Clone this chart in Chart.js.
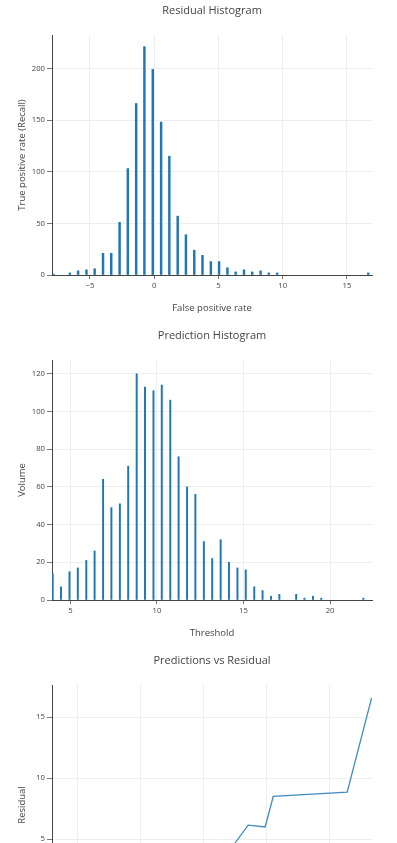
<!DOCTYPE html>
<html>
<head>
<meta charset="utf-8">
<script src="https://cdn.jsdelivr.net/npm/chart.js@4/dist/chart.umd.min.js"></script>
<style>
  html, body { margin: 0; padding: 0; background: #fff; overflow: hidden; }
  .box { position: relative; width: 397px; height: 325px; }
</style>
</head>
<body>
<div class="box"><canvas id="residualHist"></canvas></div>
<div class="box"><canvas id="predictionHist"></canvas></div>
<div class="box"><canvas id="predVsResid"></canvas></div>
<script>
// residual histogram (bin centers / counts)
const residualCenters = [-7.85, -6.56, -5.92, -5.27, -4.63, -3.98, -3.34, -2.69, -2.05, -1.40, -0.76, -0.11, 0.54, 1.18, 1.83, 2.47, 3.12, 3.76, 4.41, 5.05, 5.70, 6.34, 6.99, 7.63, 8.28, 8.92, 9.57, 16.66];
const residualCounts = [1, 2, 4, 5, 6, 21, 21, 51, 103, 166, 221, 199, 148, 115, 57, 39, 24, 19, 13, 13, 7, 3, 5, 3, 4, 2, 2, 2];

// prediction histogram
const predictionCenters = [3.98, 4.46, 4.95, 5.43, 5.92, 6.40, 6.89, 7.37, 7.86, 8.34, 8.83, 9.31, 9.80, 10.28, 10.77, 11.25, 11.74, 12.22, 12.71, 13.19, 13.68, 14.16, 14.65, 15.13, 15.62, 16.10, 16.59, 17.07, 18.04, 18.52, 19.01, 19.49, 21.92];
const predictionCounts = [14, 7, 15, 17, 21, 26, 64, 49, 51, 71, 120, 113, 111, 114, 106, 76, 60, 56, 31, 22, 32, 20, 17, 16, 7, 5, 2, 3, 3, 1, 2, 1, 1];

// predictions vs residual line
const linePred = [11.0, 12.4, 13.57, 14.92, 15.56, 21.43, 23.37];
const lineResid = [1.0, 4.5, 6.15, 6.0, 8.5, 8.85, 16.6];

const blue = "rgb(31,119,180)";
const textColor = "#444";
const gridColor = "#eee";

// plotly style minus sign on tick labels
const fmt = (v) => String(v).replace("-", "\u2212");

function xAxis(title, min, max, step) {
  return {
    type: "linear",
    min: min,
    max: max,
    offset: false,
    grid: { offset: false, color: gridColor, tickLength: 4, tickColor: "#777" },
    border: { color: textColor, width: 1 },
    ticks: { stepSize: step, includeBounds: false, color: textColor, padding: 2, maxRotation: 0, callback: fmt, font: { family: "Open Sans", size: 7.7 } },
    title: { display: true, text: title, color: textColor, font: { family: "Open Sans", size: 9.5 }, padding: { top: 0, bottom: 11.3 } },
    afterFit: (s) => { s.height = 50; },
  };
}

function yAxis(title, min, max, step) {
  return {
    min: min,
    max: max,
    grid: {
      color: (ctx) => (ctx.tick && ctx.tick.value === min ? "rgba(0,0,0,0)" : gridColor),
      tickLength: 5,
      tickColor: "#777",
    },
    border: { color: textColor, width: 1 },
    ticks: { stepSize: step, includeBounds: false, color: textColor, padding: 2, callback: fmt, font: { family: "Open Sans", size: 7.7 } },
    title: { display: true, text: title, color: textColor, font: { family: "Open Sans", size: 9.5 }, padding: { top: 16.3, bottom: 0 } },
    afterFit: (s) => { s.width = 52; },
  };
}

function commonOptions(title, scales) {
  return {
    responsive: true,
    maintainAspectRatio: false,
    animation: false,
    layout: { padding: { left: 0, right: 25, top: 0, bottom: 0 } },
    plugins: {
      legend: { display: false },
      tooltip: { enabled: false },
      title: {
        display: true,
        text: title,
        fullSize: false,
        color: textColor,
        font: { family: "Open Sans", size: 11, weight: "normal" },
        padding: { top: 4.4, bottom: 17.4 },
      },
    },
    scales: scales,
  };
}

new Chart(document.getElementById("residualHist"), {
  type: "bar",
  data: {
    datasets: [
      {
        data: residualCenters.map((x, i) => ({ x: x, y: residualCounts[i] })),
        backgroundColor: blue,
        barThickness: 1.8,
      },
    ],
  },
  options: commonOptions("Residual Histogram", {
    x: xAxis("False positive rate", -7.95, 16.95, 5),
    y: yAxis("True positive rate (Recall)", 0, 232.3, 50),
  }),
});

new Chart(document.getElementById("predictionHist"), {
  type: "bar",
  data: {
    datasets: [
      {
        data: predictionCenters.map((x, i) => ({ x: x, y: predictionCounts[i] })),
        backgroundColor: blue,
        barThickness: 1.3,
      },
    ],
  },
  options: commonOptions("Prediction Histogram", {
    x: xAxis("Threshold", 3.94, 22.42, 5),
    y: yAxis("Volume", 0, 127.3, 20),
  }),
});

new Chart(document.getElementById("predVsResid"), {
  type: "line",
  data: {
    datasets: [
      {
        data: linePred.map((x, i) => ({ x: x, y: lineResid[i] })),
        borderColor: "rgba(31,119,180,0.85)",
        borderWidth: 1.3,
        pointRadius: 0,
        tension: 0,
        fill: false,
      },
    ],
  },
  options: commonOptions("Predictions vs Residual", {
    x: xAxis("Predictions", -2.0, 23.4, 5),
    y: yAxis("Residual", -2.05, 17.65, 5),
  }),
});
</script>
</body>
</html>
